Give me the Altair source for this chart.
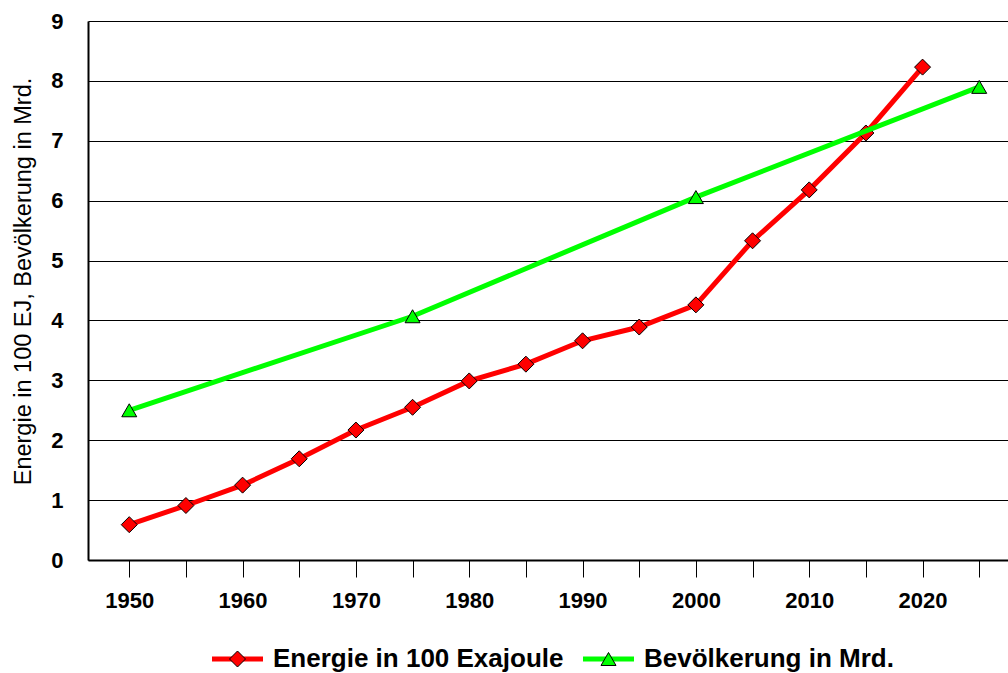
import altair as alt
import pandas as pd

# World primary energy use (hundreds of exajoules) and population (billions)
energy_years = [1950, 1955, 1960, 1965, 1970, 1975, 1980, 1985, 1990, 1995, 2000, 2005, 2010, 2015, 2020]
energy_values = [0.59, 0.91, 1.25, 1.69, 2.17, 2.55, 2.99, 3.27, 3.66, 3.89, 4.26, 5.33, 6.18, 7.13, 8.23]

pop_years = [1950, 1975, 2000, 2025]
pop_values = [2.50, 4.07, 6.06, 7.90]

series_names = ["Energie in 100 Exajoule", "Bevölkerung in Mrd."]
series_colors = ["#FF0000", "#00FF00"]
series_shapes = ["diamond", "triangle-up"]

tick_years = list(range(1950, 2030, 5))
y_ticks = list(range(0, 10))
y_title = "Energie in 100 EJ, Bevölkerung in Mrd."

FONT = "Liberation Sans"

energy_df = pd.DataFrame({"Jahr": energy_years, "Wert": energy_values})
pop_df = pd.DataFrame({"Jahr": pop_years, "Wert": pop_values})

x_scale = alt.Scale(domain=[1946.36, 2027.54], nice=False, zero=False)
y_scale = alt.Scale(domain=[0, 9], nice=False)

x_axis = alt.Axis(
    values=tick_years,
    format="d",
    labelExpr="datum.value % 10 == 0 ? datum.label : ''",
    grid=False,
    tickSize=17,
    tickColor="black",
    tickWidth=1,
    domainColor="black",
    domainWidth=2,
    labelFont=FONT,
    labelFontSize=22,
    labelFontWeight="bold",
    labelColor="black",
    labelPadding=13,
    labelFlush=False,
    labelOverlap=False,
    title=None,
)

y_axis = alt.Axis(
    values=y_ticks,
    grid=True,
    gridColor="black",
    gridWidth=1,
    gridOpacity=1,
    tickSize=0,
    domainColor="black",
    domainWidth=2,
    labelFont=FONT,
    labelFontSize=22,
    labelFontWeight="bold",
    labelColor="black",
    labelPadding=25,
    title=y_title,
    titleFont=FONT,
    titleFontSize=23.5,
    titleFontWeight="normal",
    titleColor="black",
    titleAngle=-90,
    titleX=-58,
    titleY=260,
    titleAlign="center",
    titleBaseline="alphabetic",
)

X = alt.X("Jahr:Q", scale=x_scale, axis=x_axis)
Y = alt.Y("Wert:Q", scale=y_scale, axis=y_axis)


def series_layers(df, color, shape, size):
    base = alt.Chart(df)
    line = base.mark_line(color=color, strokeWidth=5).encode(x=X, y=Y)
    pts = base.mark_point(
        shape=shape, filled=True, fill=color, stroke="black", strokeWidth=1, size=size, opacity=1
    ).encode(x=X, y=Y)
    return [line, pts]


layers = []
layers += series_layers(energy_df, series_colors[0], series_shapes[0], 256)
layers += series_layers(pop_df, series_colors[1], series_shapes[1], 225)

# Legend below the plot: a line sample with the marker, then the series name
legend_y = 638
legend_x = [124, 495]
for i, name in enumerate(series_names):
    one = alt.Chart(pd.DataFrame({"name": [name]}))
    x0 = legend_x[i]
    layers.append(
        one.mark_rule(color=series_colors[i], strokeWidth=5).encode(
            x=alt.value(x0), x2=alt.value(x0 + 51), y=alt.value(legend_y)
        )
    )
    layers.append(
        one.mark_point(
            shape=series_shapes[i], filled=True, fill=series_colors[i], stroke="black",
            strokeWidth=1, size=225 if i else 256, opacity=1
        ).encode(x=alt.value(x0 + 25.5), y=alt.value(legend_y))
    )
    layers.append(
        one.mark_text(
            align="left", baseline="middle", font=FONT, fontSize=26, fontWeight="bold", color="black"
        ).encode(x=alt.value(x0 + 61), y=alt.value(legend_y), text="name:N")
    )

chart = (
    alt.layer(*layers)
    .properties(
        width=920,
        height=539,
        autosize=alt.AutoSizeParams(type="none"),
        padding={"left": 88, "top": 21, "right": 0, "bottom": 113},
        background="white",
    )
    .configure_view(stroke=None)
)

chart.save("out.html", embed_options={"renderer": "svg", "actions": False})
